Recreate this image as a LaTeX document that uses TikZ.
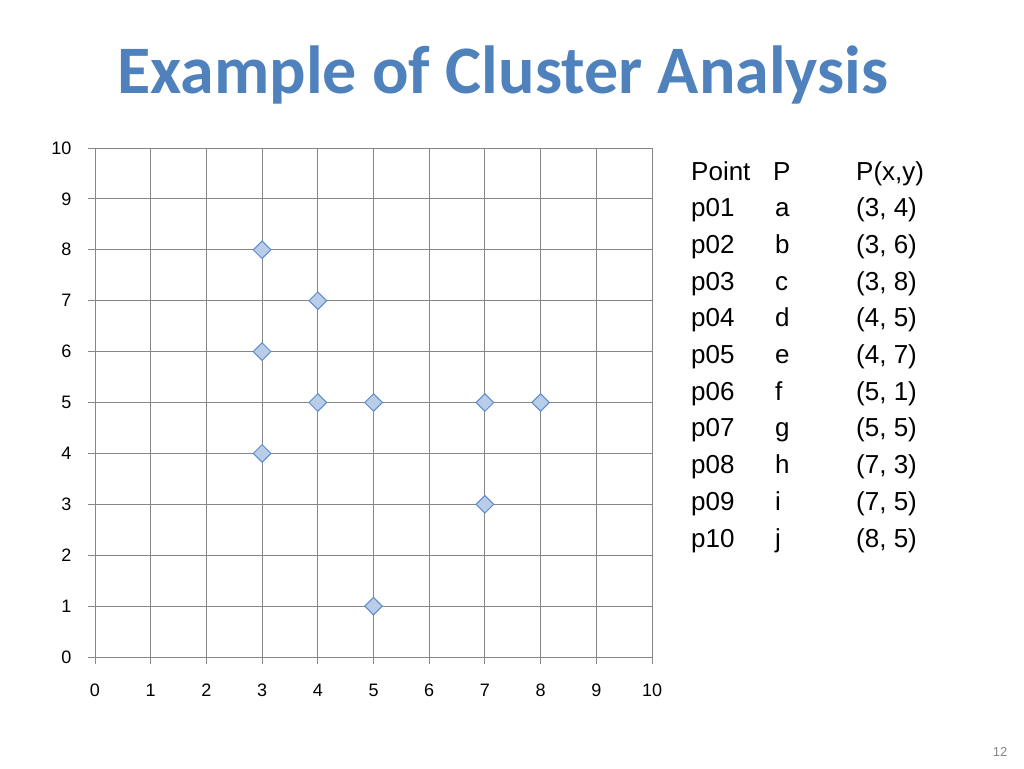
\documentclass[tikz,border=0pt]{standalone}
\usepackage{fontspec}
\usetikzlibrary{shapes.geometric}
\setmainfont{Liberation Sans}
\newfontfamily\titlefont{Carlito}
\definecolor{tblue}{RGB}{79,129,189}
\definecolor{mfill}{RGB}{185,205,232}
\definecolor{mdraw}{RGB}{90,140,205}
\definecolor{gridc}{RGB}{134,134,134}
\begin{document}
\begin{tikzpicture}[x=1pt,y=-1pt,
  gridline/.style={draw=gridc,line width=1pt},
  tick/.style={font=\fontsize{18}{18}\selectfont},
  tbl/.style={anchor=base west,font=\fontsize{26}{26}\selectfont,inner sep=0pt},
  ptmark/.style={draw=mdraw,fill=mfill,line width=1pt,diamond,minimum width=18pt,minimum height=18pt,inner sep=0pt}]
\useasboundingbox (0,0) rectangle (1024,768);
\node[text=tblue,font=\titlefont\bfseries\fontsize{68}{68}\selectfont] (title) at (503,75) {Example of Cluster Analysis};
% grid
\foreach \i in {0,...,10}{
  \draw[gridline] ({95+55.7*\i},148) -- ({95+55.7*\i},657);
  \draw[gridline] (95,{657-50.9*\i}) -- (652,{657-50.9*\i});
  \draw[gridline] (88,{657-50.9*\i}) -- (95,{657-50.9*\i});
  \draw[gridline] ({95+55.7*\i},657) -- ({95+55.7*\i},664);
  \node[tick,anchor=east] (yl\i) at (75,{657-50.9*\i}) {\i};
  \node[tick] (xl\i) at ({95+55.7*\i},690) {\i};
}
% points
\foreach \px/\py [count=\k] in {3/8,4/7,3/6,4/5,5/5,7/5,8/5,3/4,7/3,5/1}{
  \node[ptmark] (pt\k) at ({95+55.7*\px},{657-50.9*\py}) {};
}
% table
\node[tbl] (h1) at (691,180) {Point};
\node[tbl] (h2) at (773,180) {P};
\node[tbl] (h3) at (856,180) {P(x,y)};
\foreach \a/\b/\c [count=\r] in {p01/a/{(3, 4)},p02/b/{(3, 6)},p03/c/{(3, 8)},p04/d/{(4, 5)},p05/e/{(4, 7)},p06/f/{(5, 1)},p07/g/{(5, 5)},p08/h/{(7, 3)},p09/i/{(7, 5)},p10/j/{(8, 5)}}{
  \node[tbl] (ra\r) at (691,{180+36.7*\r}) {\a};
  \node[tbl] (rb\r) at (775,{180+36.7*\r}) {\b};
  \node[tbl] (rc\r) at (856,{180+36.7*\r}) {\c};
}
\node[text=gridc,font=\fontsize{13}{13}\selectfont] (pg) at (1000,752) {12};
\end{tikzpicture}
\end{document}
